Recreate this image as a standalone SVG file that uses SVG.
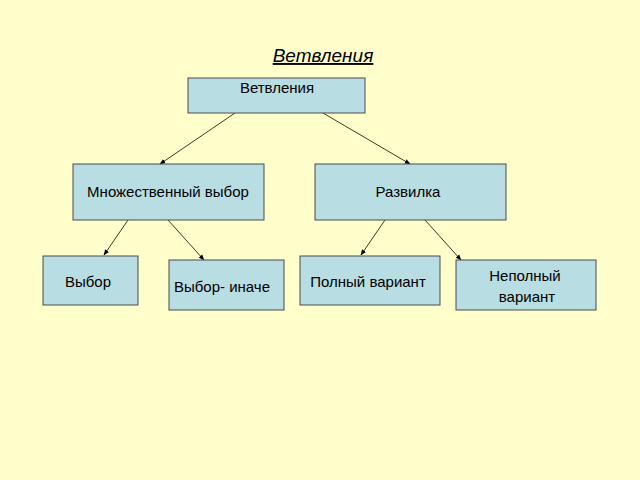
<svg xmlns="http://www.w3.org/2000/svg" width="640" height="480" viewBox="0 0 640 480">
<defs>
<style>
.b{fill:#b8dde2;stroke:#4a4a4a;stroke-width:1}
.t{font-family:"Liberation Sans",Arial,sans-serif;font-size:15px;fill:#000;text-anchor:middle}
.c line{stroke:#3a3a2a;stroke-width:1;marker-end:url(#a)}
</style>
<marker id="a" viewBox="0 0 10 10" refX="9" refY="5" markerWidth="6" markerHeight="6" orient="auto"><path d="M0,1 L10,5 L0,9 z" fill="#000"/></marker>
</defs>
<rect width="640" height="480" fill="#ffffcc"/>
<text x="323" y="62" class="t" style="font-size:19px;font-style:italic;text-decoration:underline">Ветвления </text>
<g class="c">
<line x1="235" y1="113" x2="160" y2="164"/>
<line x1="323" y1="113" x2="410" y2="164"/>
<line x1="128" y1="220" x2="104" y2="255"/>
<line x1="168" y1="220" x2="204" y2="260"/>
<line x1="385" y1="220" x2="361" y2="255"/>
<line x1="425" y1="220" x2="461" y2="260"/>
</g>
<g id="n0"><rect class="b" x="188" y="78" width="177" height="35"/><text class="t" x="277" y="93">Ветвления</text></g>
<g id="n1"><rect class="b" x="73" y="164" width="191" height="56"/><text class="t" x="168" y="197">Множественный выбор</text></g>
<g id="n2"><rect class="b" x="315" y="164" width="191" height="56"/><text class="t" x="408" y="197">Развилка</text></g>
<g id="n3"><rect class="b" x="43" y="256" width="95" height="49"/><text class="t" x="88" y="287">Выбор</text></g>
<g id="n4"><rect class="b" x="169" y="260" width="115" height="50"/><text class="t" x="222" y="292">Выбор- иначе</text></g>
<g id="n5"><rect class="b" x="300" y="256" width="140" height="49"/><text class="t" x="368" y="287">Полный вариант</text></g>
<g id="n6"><rect class="b" x="456" y="260" width="140" height="50"/><text class="t" x="525" y="281">Неполный</text><text class="t" x="527" y="302">вариант</text></g>
</svg>
